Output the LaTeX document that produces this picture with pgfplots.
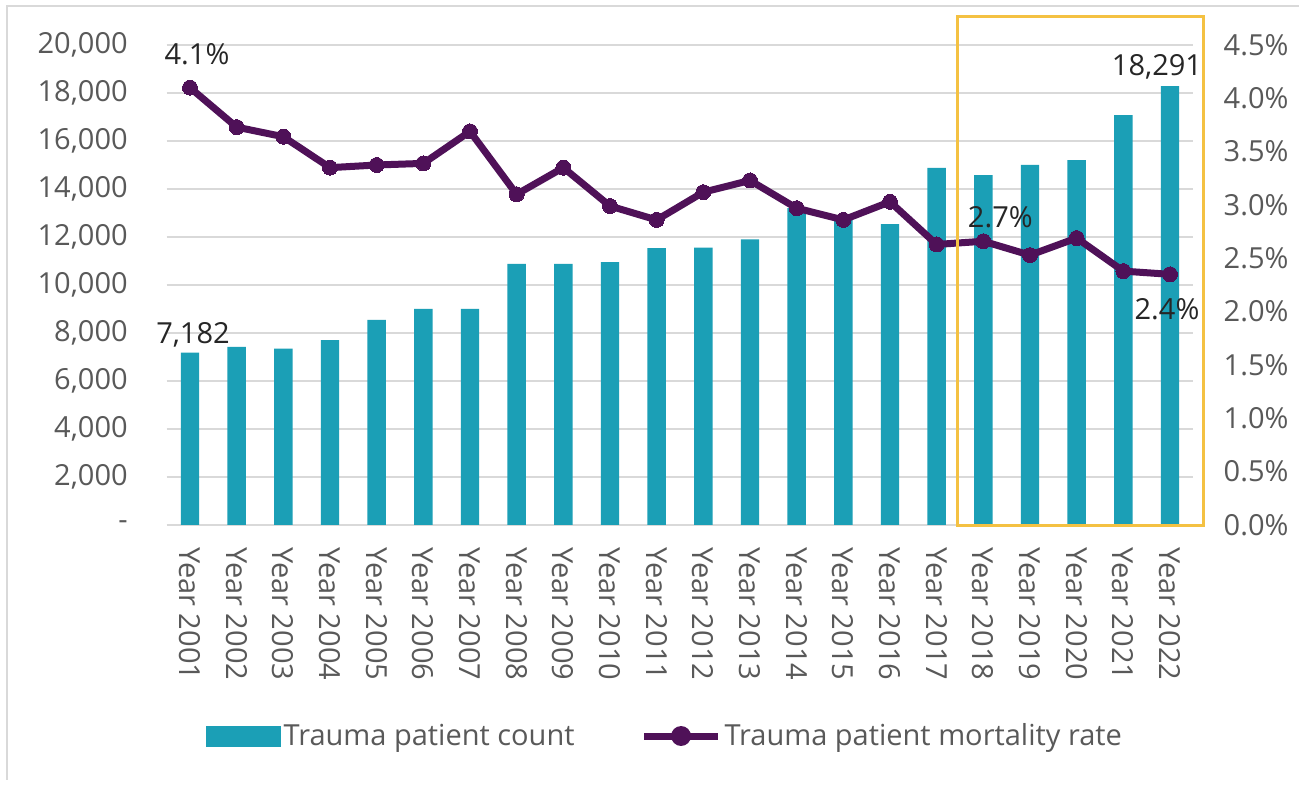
\documentclass[border=0pt]{standalone}
\usepackage{fontspec}
\setmainfont{Open Sans}
\usepackage{pgfplots}
\pgfplotsset{compat=1.18}
\definecolor{barcol}{HTML}{1B9FB6}
\definecolor{linecol}{HTML}{4F1158}
\definecolor{gridcol}{HTML}{D9D9D9}
\definecolor{tickcol}{HTML}{595959}
\definecolor{boxcol}{HTML}{F4C142}
\definecolor{labcol}{HTML}{262626}
\newcommand\fs{\fontsize{14.5}{17.4}\selectfont}
\begin{document}
\begin{tikzpicture}[x=1pt,y=1pt]
\useasboundingbox (0,0) rectangle (649.5,392.5);
\fill[white] (0,0) rectangle (649.5,392.5);
\draw[gridcol,line width=1pt] (3.5,2.5) -- (3.5,389.5) -- (649.5,389.5);
\begin{axis}[at={(83.33pt,130pt)}, anchor=south west, scale only axis,
  width=513.33pt, height=240pt,
  xmin=-0.5, xmax=21.5, ymin=0, ymax=20000,
  scaled y ticks=false,
  ybar, bar width=9.2pt,
  xtick={0,1,...,21},
  xticklabels={Year 2001,Year 2002,Year 2003,Year 2004,Year 2005,Year 2006,Year 2007,Year 2008,Year 2009,Year 2010,Year 2011,Year 2012,Year 2013,Year 2014,Year 2015,Year 2016,Year 2017,Year 2018,Year 2019,Year 2020,Year 2021,Year 2022},
  xticklabel style={rotate=-90, anchor=west, font=\fs, text=tickcol, inner sep=0pt},
  xticklabel shift=11pt,
  ytick={0,2000,4000,6000,8000,10000,12000,14000,16000,18000,20000},
  yticklabels={{-\hspace{7.5pt}},{2,000},{4,000},{6,000},{8,000},{10,000},{12,000},{14,000},{16,000},{18,000},{20,000}},
  yticklabel style={anchor=east, font=\fs, text=tickcol, inner sep=0pt},
  yticklabel shift=19.3pt,
  ymajorgrids, grid style={gridcol, line width=1pt},
  axis line style={draw=none}, major tick length=0pt, tick style={draw=none},
  clip=false]
\addplot[fill=barcol, draw=none] coordinates {
(0,7182) (1,7420) (2,7350) (3,7700) (4,8550) (5,9000) (6,9000) (7,10875)
(8,10880) (9,10950) (10,11540) (11,11560) (12,11900) (13,13200) (14,12750)
(15,12540) (16,14875) (17,14580) (18,15000) (19,15200) (20,17080) (21,18291)};
\node[font=\fs, text=labcol] at (axis cs:0,7182) [xshift=1.5pt, yshift=9pt] {7,182};
\node[font=\fs, text=labcol] at (axis cs:21,18291) [xshift=-6.5pt, yshift=9.5pt] {18,291};
\end{axis}
\begin{axis}[at={(83.33pt,130pt)}, anchor=south west, scale only axis,
  width=513.33pt, height=240pt,
  xmin=-0.5, xmax=21.5, ymin=0, ymax=4.5,
  xtick=\empty,
  ytick={0,0.5,1,1.5,2,2.5,3,3.5,4,4.5},
  yticklabels={0.0\%,0.5\%,1.0\%,1.5\%,2.0\%,2.5\%,3.0\%,3.5\%,4.0\%,4.5\%},
  yticklabel pos=right,
  yticklabel style={anchor=west, font=\fs, text=tickcol, inner sep=0pt},
  yticklabel shift=15pt,
  axis line style={draw=none}, major tick length=0pt, tick style={draw=none},
  clip=false,
  legend columns=2,
  legend style={at={(0.4858,-0.4396)}, anchor=center, draw=none, fill=none,
    font=\fs, text=tickcol, inner sep=0pt,
    nodes={inner sep=1.5pt},
    /tikz/every even column/.append style={column sep=31.5pt}},
  ]
\addlegendimage{legend image code/.code={\fill[barcol] (0pt,-5pt) rectangle (37pt,5pt);}}
\addlegendentry{Trauma patient count}
\addplot[linecol, line width=3.5pt, mark=*, mark size=3.75pt,
  mark options={fill=linecol, draw=linecol, line width=0pt},
  legend image code/.code={\draw[linecol, line width=3.5pt] (0pt,0pt) -- (37pt,0pt); \fill[linecol] (18.5pt,0pt) circle (3.2pt);}]
coordinates {
(0,4.10) (1,3.73) (2,3.64) (3,3.35) (4,3.375) (5,3.39) (6,3.69) (7,3.10)
(8,3.35) (9,2.99) (10,2.86) (11,3.12) (12,3.23) (13,2.97) (14,2.86) (15,3.03)
(16,2.63) (17,2.66) (18,2.53) (19,2.69) (20,2.38) (21,2.35)};
\addlegendentry{Trauma patient mortality rate}
\node[font=\fs, text=labcol] at (axis cs:0,4.10) [xshift=3.5pt, yshift=16.5pt] {4.1\%};
\node[font=\fs, text=labcol] at (axis cs:17,2.66) [xshift=8.5pt, yshift=12pt] {2.7\%};
\node[font=\fs, text=labcol] at (axis cs:21,2.35) [xshift=-1.5pt, yshift=-17.5pt] {2.4\%};
\end{axis}
\draw[boxcol, line width=1.5pt] (478.5,129.5) rectangle (601.5,384);
\end{tikzpicture}
\end{document}
